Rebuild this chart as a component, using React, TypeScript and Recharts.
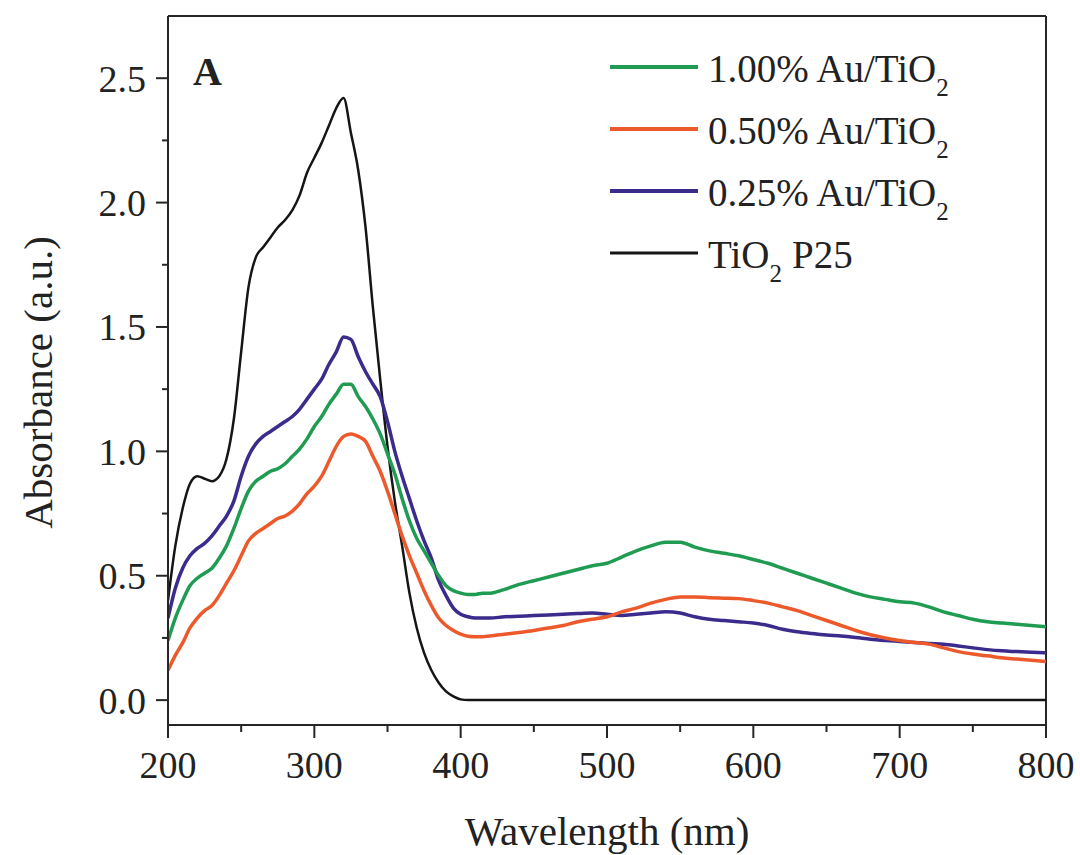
import React from 'react';
import { LineChart, Line, XAxis, YAxis, ReferenceLine, Legend } from 'recharts';

// Wavelength grid (nm)
const wavelengths = [
  200, 205, 210, 215, 220, 225, 230, 235, 240, 245,
  250, 255, 260, 265, 270, 275, 280, 285, 290, 295,
  300, 305, 310, 315, 320, 325, 330, 335, 340, 345,
  350, 355, 360, 365, 370, 375, 380, 385, 390, 395,
  400, 405, 410, 415, 420,
  430, 440, 450, 460, 470, 480, 490, 500, 510, 520,
  530, 540, 550, 560, 570, 580, 590, 600, 610, 620,
  630, 640, 650, 660, 670, 680, 690, 700, 710, 720,
  730, 740, 750, 760, 770, 780, 790, 800,
];

// TiO2 P25
const p25 = [
  0.40, 0.62, 0.77, 0.87, 0.90, 0.89, 0.88, 0.90, 0.97, 1.13,
  1.40, 1.66, 1.78, 1.82, 1.86, 1.90, 1.93, 1.97, 2.03, 2.12,
  2.18, 2.24, 2.31, 2.38, 2.42, 2.28, 2.13, 1.90, 1.58, 1.29,
  1.02, 0.80, 0.62, 0.43, 0.29, 0.19, 0.12, 0.07, 0.035, 0.015,
  0.003, 0, 0, 0, 0,
  0, 0, 0, 0, 0, 0, 0, 0, 0, 0,
  0, 0, 0, 0, 0, 0, 0, 0, 0, 0,
  0, 0, 0, 0, 0, 0, 0, 0, 0, 0,
  0, 0, 0, 0, 0, 0, 0, 0,
];

// 0.25% Au/TiO2
const au025 = [
  0.33, 0.45, 0.53, 0.58, 0.61, 0.63, 0.66, 0.70, 0.74, 0.80,
  0.90, 0.98, 1.03, 1.06, 1.08, 1.10, 1.12, 1.14, 1.17, 1.21,
  1.25, 1.29, 1.35, 1.40, 1.46, 1.45, 1.38, 1.32, 1.27, 1.22,
  1.12, 1.00, 0.90, 0.81, 0.72, 0.64, 0.57, 0.48, 0.42, 0.37,
  0.345, 0.335, 0.33, 0.33, 0.33,
  0.335, 0.337, 0.34, 0.342, 0.345, 0.348, 0.35, 0.345, 0.34, 0.345,
  0.35, 0.355, 0.35, 0.335, 0.325, 0.32, 0.315, 0.31, 0.30, 0.285,
  0.275, 0.268, 0.262, 0.258, 0.252, 0.245, 0.24, 0.236, 0.232, 0.228,
  0.225, 0.218, 0.21, 0.203, 0.198, 0.195, 0.192, 0.19,
];

// 0.50% Au/TiO2
const au050 = [
  0.12, 0.18, 0.23, 0.29, 0.33, 0.36, 0.38, 0.42, 0.47, 0.52,
  0.58, 0.64, 0.67, 0.69, 0.71, 0.73, 0.74, 0.76, 0.79, 0.83,
  0.86, 0.90, 0.96, 1.02, 1.06, 1.07, 1.06, 1.04, 0.98, 0.92,
  0.84, 0.75, 0.66, 0.58, 0.51, 0.44, 0.38, 0.33, 0.30, 0.28,
  0.265, 0.257, 0.255, 0.255, 0.258,
  0.265, 0.272, 0.28, 0.29, 0.30, 0.315, 0.325, 0.335, 0.355, 0.37,
  0.39, 0.405, 0.415, 0.415, 0.412, 0.41, 0.408, 0.40, 0.39, 0.375,
  0.36, 0.34, 0.32, 0.30, 0.28, 0.263, 0.25, 0.24, 0.232, 0.225,
  0.21, 0.195, 0.185, 0.178, 0.17, 0.165, 0.16, 0.155,
];

// 1.00% Au/TiO2
const au100 = [
  0.24, 0.33, 0.40, 0.46, 0.49, 0.51, 0.53, 0.57, 0.62, 0.69,
  0.77, 0.84, 0.88, 0.90, 0.92, 0.93, 0.95, 0.98, 1.01, 1.05,
  1.10, 1.14, 1.19, 1.23, 1.27, 1.27, 1.22, 1.18, 1.13, 1.07,
  0.99, 0.91, 0.81, 0.72, 0.65, 0.60, 0.55, 0.50, 0.46, 0.44,
  0.43, 0.425, 0.425, 0.43, 0.43,
  0.445, 0.465, 0.48, 0.495, 0.51, 0.525, 0.54, 0.55, 0.575, 0.60,
  0.62, 0.635, 0.635, 0.615, 0.60, 0.59, 0.58, 0.565, 0.55, 0.53,
  0.51, 0.49, 0.47, 0.45, 0.43, 0.415, 0.405, 0.395, 0.39, 0.375,
  0.355, 0.34, 0.325, 0.315, 0.31, 0.305, 0.30, 0.295,
];

const xTicks = [200, 250, 300, 350, 400, 450, 500, 550, 600, 650, 700, 750, 800];
const yTicks = [0, 0.25, 0.5, 0.75, 1.0, 1.25, 1.5, 1.75, 2.0, 2.25, 2.5];

const legendItems = [
  { key: 'au100', main: '1.00% Au/TiO', sub: '2', tail: '', color: '#1f9b52' },
  { key: 'au050', main: '0.50% Au/TiO', sub: '2', tail: '', color: '#ec5a2c' },
  { key: 'au025', main: '0.25% Au/TiO', sub: '2', tail: '', color: '#3b2b8c' },
  { key: 'p25', main: 'TiO', sub: '2', tail: 'P25', color: '#151515' },
];

const data = wavelengths.map((w, i) => ({
  w,
  p25: p25[i],
  au025: au025[i],
  au050: au050[i],
  au100: au100[i],
}));

const FONT = '"Liberation Serif", "Times New Roman", serif';
const AXIS = '#262626';

const XTick = (props: any) => {
  const { x, y, payload } = props;
  const v = payload.value;
  const major = v % 100 === 0;
  const axisY = y - 26;
  return (
    <g>
      <line x1={x} x2={x} y1={axisY} y2={axisY + (major ? 13 : 7)} stroke={AXIS} strokeWidth={2} />
      {major && (
        <text x={x} y={y} dy="0.71em" textAnchor="middle" fontFamily={FONT} fontSize={38} fill="#222">
          {v}
        </text>
      )}
    </g>
  );
};

const YTick = (props: any) => {
  const { x, y, payload } = props;
  const v = payload.value;
  const major = Math.abs(v * 2 - Math.round(v * 2)) < 1e-6;
  const axisX = x + 22;
  return (
    <g>
      <line x1={axisX} x2={axisX - (major ? 12 : 6)} y1={y} y2={y} stroke={AXIS} strokeWidth={2} />
      {major && (
        <text x={x} y={y} dy="0.355em" textAnchor="end" fontFamily={FONT} fontSize={38} fill="#222">
          {v.toFixed(1)}
        </text>
      )}
    </g>
  );
};

const XTitle = (props: any) => {
  const vb = props.viewBox || {};
  return (
    <text x={vb.x + vb.width / 2} y={vb.y + 120} textAnchor="middle" fontFamily={FONT} fontSize={41} fill="#222">
      Wavelength (nm)
    </text>
  );
};

const YTitle = (props: any) => {
  const vb = props.viewBox || {};
  const cx = vb.x + vb.width - 116;
  const cy = vb.y + vb.height / 2 + 12;
  return (
    <text
      x={cx}
      y={cy}
      transform={`rotate(-90, ${cx}, ${cy})`}
      textAnchor="middle"
      fontFamily={FONT}
      fontSize={41}
      fill="#222"
    >
      Absorbance (a.u.)
    </text>
  );
};

const renderLegend = () => (
  <svg width={460} height={260} style={{ display: 'block', overflow: 'visible' }}>
    {legendItems.map((it, i) => {
      const ly = 37 + i * 62;
      return (
        <g key={it.key}>
          <line x1={10} x2={98} y1={ly} y2={ly} stroke={it.color} strokeWidth={it.key === 'p25' ? 3 : 4} />
          <text x={108} y={ly + 15} fontFamily={FONT} fontSize={39} fill="#222">
            <tspan>{it.main}</tspan>
            <tspan fontSize={25} dy={14}>{it.sub}</tspan>
            {it.tail ? (
              <tspan dy={-14} dx={10}>{it.tail}</tspan>
            ) : null}
          </text>
        </g>
      );
    })}
  </svg>
);

export default function App() {
  return (
    <div style={{ position: 'absolute', left: 0, top: 0, width: 1080, height: 855, background: '#fff' }}>
      <LineChart width={1080} height={855} data={data} margin={{ top: 16, right: 34, bottom: 70, left: 88 }}>
        <XAxis
          dataKey="w"
          type="number"
          domain={[200, 800]}
          ticks={xTicks}
          interval={0}
          height={60}
          tickSize={13}
          tickMargin={13}
          tickLine={false}
          axisLine={{ stroke: AXIS, strokeWidth: 2 }}
          tick={<XTick />}
          label={<XTitle />}
          allowDataOverflow
        />
        <YAxis
          type="number"
          domain={[-0.1, 2.75]}
          ticks={yTicks}
          interval={0}
          width={80}
          tickSize={12}
          tickMargin={10}
          tickLine={false}
          axisLine={{ stroke: AXIS, strokeWidth: 2 }}
          tick={<YTick />}
          label={<YTitle />}
          allowDataOverflow
        />
        <ReferenceLine y={2.75} stroke={AXIS} strokeWidth={2} />
        <ReferenceLine x={800} stroke={AXIS} strokeWidth={2} />
        <Line type="monotone" dataKey="p25" stroke="#151515" strokeWidth={2.5} dot={false} isAnimationActive={false} />
        <Line type="monotone" dataKey="au025" stroke="#3b2b8c" strokeWidth={3.5} dot={false} isAnimationActive={false} />
        <Line type="monotone" dataKey="au100" stroke="#1f9b52" strokeWidth={3.5} dot={false} isAnimationActive={false} />
        <Line type="monotone" dataKey="au050" stroke="#ec5a2c" strokeWidth={3.5} dot={false} isAnimationActive={false} />
        <Legend
          layout="vertical"
          align="center"
          verticalAlign="middle"
          content={renderLegend}
          wrapperStyle={{ left: 600, top: 30, width: 460, height: 260 }}
        />
      </LineChart>
      <div
        style={{
          position: 'absolute',
          left: 193,
          top: 52,
          fontFamily: FONT,
          fontWeight: 'bold',
          fontSize: 40,
          lineHeight: '40px',
          color: '#222',
        }}
      >
        A
      </div>
    </div>
  );
}
